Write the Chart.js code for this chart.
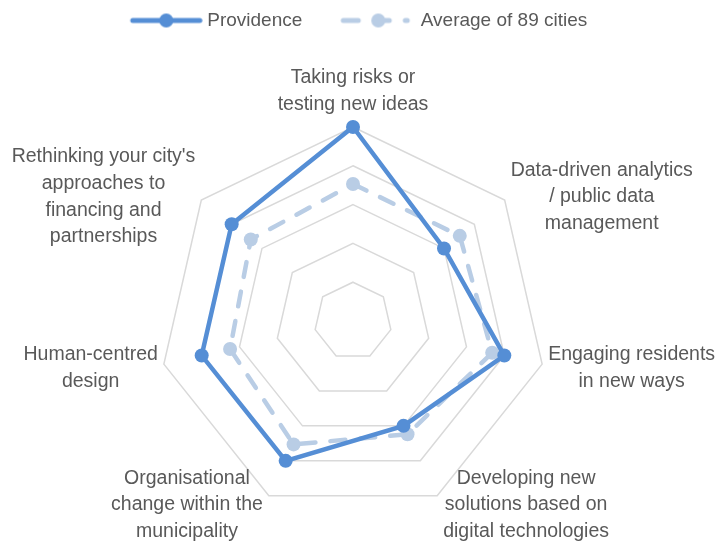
<!DOCTYPE html>
<html lang="en">
<head>
    <meta charset="utf-8">
    <title>Providence vs average of 89 cities</title>
    <script src="https://cdn.jsdelivr.net/npm/chart.js@4.4.1/dist/chart.umd.min.js"></script>
    <style>
        * {
            box-sizing: border-box;
        }

        body {
            margin: 0;
            background: #fff;
        }

        .container {
            width: 725px;
            height: 542px;
        }
    </style>
</head>
<body>

    <div class="container">
        <canvas id="radarChart" width="725" height="542"></canvas>
    </div>

    <script>
        // data (score scale 0 - 5)
        var categories = [
            ["Taking risks or", "testing new ideas"],
            ["Data-driven analytics", "/ public data", "management"],
            ["Engaging residents", "in new ways"],
            ["Developing new", "solutions based on", "digital technologies"],
            ["Organisational", "change within the", "municipality"],
            ["Human-centred", "design"],
            ["Rethinking your city's", "approaches to", "financing and", "partnerships"]
        ];
        var seriesNames = ["Providence", "Average of 89 cities"];
        var providence = [5, 3, 4, 3, 4, 4, 4];
        var average = [3.53, 3.52, 3.68, 3.24, 3.53, 3.25, 3.37];
        var scaleMax = 5;

        var darkBlue = '#558ED5';
        var lightBlue = '#B9CDE5';
        var textGrey = '#595959';
        var fontName = "'Liberation Sans', Arial, sans-serif";

        // little line + marker pictures for the legend
        function legendIcon(color, dashed, x0, x1, xm) {
            var c = document.createElement('canvas');
            c.width = 100;
            c.height = 20;
            var g = c.getContext('2d');
            g.strokeStyle = color;
            g.fillStyle = color;
            g.lineWidth = 5;
            g.lineCap = 'round';
            if (dashed) {
                g.setLineDash([15, 16]);
            }
            g.beginPath();
            g.moveTo(x0, 10);
            g.lineTo(x1, 10);
            g.stroke();
            g.setLineDash([]);
            g.beginPath();
            g.arc(xm, 10, 7, 0, Math.PI * 2);
            g.fill();
            return c;
        }

        var icons = [
            legendIcon(darkBlue, false, 30, 97, 63.5),
            legendIcon(lightBlue, true, 27, 91, 62)
        ];

        // category labels, centred lines like the original
        var axisLabels = {
            id: 'axisLabels',
            afterDraw: function (chart) {
                var scale = chart.scales.r;
                var ctx = chart.ctx;
                var lineH = 26.7;
                ctx.save();
                ctx.font = '19.5px ' + fontName;
                ctx.fillStyle = textGrey;
                ctx.textAlign = 'center';
                ctx.textBaseline = 'middle';
                chart.data.labels.forEach(function (lines, i) {
                    var p = scale.getPointPosition(i, scale.drawingArea);
                    var cos = Math.cos(p.angle);
                    var sin = Math.sin(p.angle);
                    var w = 0;
                    lines.forEach(function (t) {
                        w = Math.max(w, ctx.measureText(t).width);
                    });
                    var cx, cy;
                    if (Math.abs(cos) < 0.1) {
                        cx = p.x;
                        cy = p.y - 9 - lines.length * lineH / 2;
                    } else if (cos > 0) {
                        cx = p.x + 6 + w / 2;
                        cy = p.y + 8 * sin + 2;
                    } else {
                        cx = p.x - 6 - w / 2;
                        cy = p.y + 8 * sin + 2;
                    }
                    var y = cy - (lines.length - 1) * lineH / 2;
                    lines.forEach(function (t, k) {
                        ctx.fillText(t, cx, y + k * lineH);
                    });
                });
                ctx.restore();
            }
        };

        var ctx = document.getElementById('radarChart').getContext('2d');
        var myRadar = new Chart(ctx, {
            type: 'radar',
            data: {
                labels: categories,
                datasets: [{
                    label: seriesNames[0],
                    data: providence,
                    borderColor: darkBlue,
                    backgroundColor: darkBlue,
                    borderWidth: 4.5,
                    pointRadius: 7,
                    pointBackgroundColor: darkBlue,
                    pointBorderWidth: 0,
                    fill: false
                }, {
                    label: seriesNames[1],
                    data: average,
                    borderColor: lightBlue,
                    backgroundColor: lightBlue,
                    borderWidth: 4.5,
                    borderDash: [15, 15],
                    borderCapStyle: 'round',
                    pointRadius: 7,
                    pointBackgroundColor: lightBlue,
                    pointBorderWidth: 0,
                    fill: false
                }]
            },
            options: {
                responsive: false,
                animation: false,
                layout: {
                    padding: { top: -8, left: 0, right: 30, bottom: 0 }
                },
                elements: {
                    line: {
                        tension: 0
                    }
                },
                plugins: {
                    tooltip: { enabled: false },
                    legend: {
                        position: 'top',
                        labels: {
                            usePointStyle: true,
                            pointStyleWidth: 90,
                            padding: 19,
                            color: textGrey,
                            font: { family: fontName, size: 19 },
                            generateLabels: function (chart) {
                                return seriesNames.map(function (name, i) {
                                    return {
                                        text: name,
                                        pointStyle: icons[i],
                                        datasetIndex: i,
                                        fontColor: textGrey,
                                        hidden: false,
                                        lineWidth: 0,
                                        strokeStyle: 'transparent',
                                        fillStyle: 'transparent'
                                    };
                                });
                            }
                        }
                    }
                },
                scales: {
                    r: {
                        min: 0,
                        max: scaleMax,
                        ticks: { display: false, stepSize: 1 },
                        angleLines: { display: false },
                        grid: { color: '#D9D9D9', lineWidth: 1.5 },
                        pointLabels: { display: false },
                        // place the web where the original has it
                        afterFit: function (scale) {
                            scale.drawingArea = 194;
                            scale.xCenter = 353;
                            scale.yCenter = 321;
                        }
                    }
                }
            },
            plugins: [axisLabels]
        });
    </script>

</body>
</html>
